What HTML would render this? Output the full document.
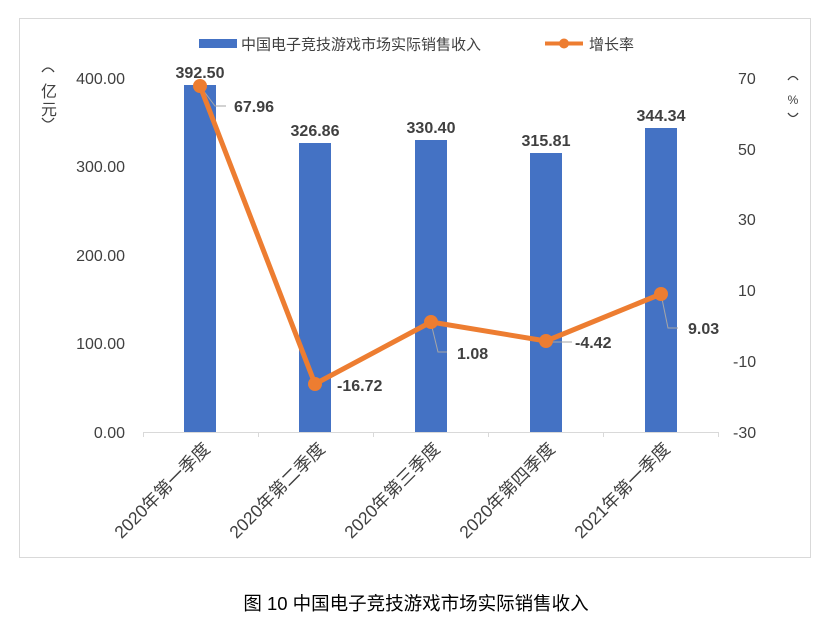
<!DOCTYPE html>
<html><head><meta charset="utf-8"><style>
body{margin:0;background:#fff;}
svg{display:block;font-family:"Liberation Sans","Noto Sans CJK SC",sans-serif;}
</style></head><body>
<svg width="831" height="621" viewBox="0 0 831 621">
<rect x="19.5" y="18.5" width="791" height="539" fill="#fff" stroke="#d9d9d9"/>
<!-- legend -->
<rect x="199" y="39" width="38" height="9" fill="#4472c4"/>
<text x="241" y="49.5" font-size="15" fill="#404040">中国电子竞技游戏市场实际销售收入</text>
<line x1="545" y1="43.5" x2="583" y2="43.5" stroke="#ed7d31" stroke-width="4"/>
<circle cx="564" cy="43.5" r="5" fill="#ed7d31"/>
<text x="589" y="49.5" font-size="15" fill="#404040">增长率</text>
<!-- axis titles -->
<g fill="none" stroke="#404040" stroke-width="1.3">
<path d="M42,72 Q48,64 54,72"/>
<path d="M42,118 Q48,126 54,118"/>
<path d="M788,80 Q793,73 798,80"/>
<path d="M788,113 Q793,120 798,113"/>
</g>
<g font-size="16" fill="#404040" text-anchor="middle">
<text x="49" y="97">亿</text>
<text x="49" y="115">元</text>
<text x="793" y="104" font-size="12">%</text>
</g>
<!-- left ticks -->
<g font-size="16" fill="#404040" text-anchor="end">
<text x="125" y="84">400.00</text>
<text x="125" y="172">300.00</text>
<text x="125" y="261">200.00</text>
<text x="125" y="349">100.00</text>
<text x="125" y="438">0.00</text>
</g>
<g font-size="16" fill="#404040" text-anchor="start">
<text x="738" y="84">70</text>
<text x="738" y="155">50</text>
<text x="738" y="225">30</text>
<text x="738" y="296">10</text>
<text x="733" y="367">-10</text>
<text x="733" y="438">-30</text>
</g>
<!-- x axis -->
<g stroke="#d9d9d9" stroke-width="1">
<line x1="143" y1="432.5" x2="718" y2="432.5"/>
<line x1="143.5" y1="432" x2="143.5" y2="437"/>
<line x1="258.5" y1="432" x2="258.5" y2="437"/>
<line x1="373.5" y1="432" x2="373.5" y2="437"/>
<line x1="488.5" y1="432" x2="488.5" y2="437"/>
<line x1="603.5" y1="432" x2="603.5" y2="437"/>
<line x1="718.5" y1="432" x2="718.5" y2="437"/>
</g>
<!-- bars -->
<g fill="#4472c4">
<rect x="184" y="85" width="32" height="347"/>
<rect x="299" y="143" width="32" height="289"/>
<rect x="415" y="140" width="32" height="292"/>
<rect x="530" y="153" width="32" height="279"/>
<rect x="645" y="128" width="32" height="304"/>
</g>
<!-- bar labels -->
<g font-size="16" font-weight="bold" fill="#404040" text-anchor="middle">
<text x="200" y="78">392.50</text>
<text x="315" y="136">326.86</text>
<text x="431" y="133">330.40</text>
<text x="546" y="146">315.81</text>
<text x="661" y="121">344.34</text>
</g>
<!-- leader lines -->
<g stroke="#a6a6a6" stroke-width="1" fill="none">
<polyline points="200,86 215,106 226,106"/>
<polyline points="431,323 438,352 447,352"/>
<polyline points="546,342 572,342"/>
<polyline points="661,294 668,328 678,328"/>
</g>
<!-- line -->
<polyline points="200,86 315,384 431,322 546,341 661,294" fill="none" stroke="#ed7d31" stroke-width="5" stroke-linejoin="round"/>
<g fill="#ed7d31">
<circle cx="200" cy="86" r="7"/>
<circle cx="315" cy="384" r="7"/>
<circle cx="431" cy="322" r="7"/>
<circle cx="546" cy="341" r="7"/>
<circle cx="661" cy="294" r="7"/>
</g>
<g font-size="16" font-weight="bold" fill="#404040">
<text x="234" y="112">67.96</text>
<text x="337" y="391">-16.72</text>
<text x="457" y="359">1.08</text>
<text x="575" y="348">-4.42</text>
<text x="688" y="334">9.03</text>
</g>
<!-- category labels -->
<g font-size="17.5" fill="#404040" text-anchor="end">
<text transform="translate(211,450) rotate(-45)">2020年第一季度</text>
<text transform="translate(326,450) rotate(-45)">2020年第二季度</text>
<text transform="translate(441,450) rotate(-45)">2020年第三季度</text>
<text transform="translate(556,450) rotate(-45)">2020年第四季度</text>
<text transform="translate(671,450) rotate(-45)">2021年第一季度</text>
</g>
<text x="416" y="610" font-size="18.5" fill="#000" text-anchor="middle">图 10  中国电子竞技游戏市场实际销售收入</text>
</svg>
</body></html>
